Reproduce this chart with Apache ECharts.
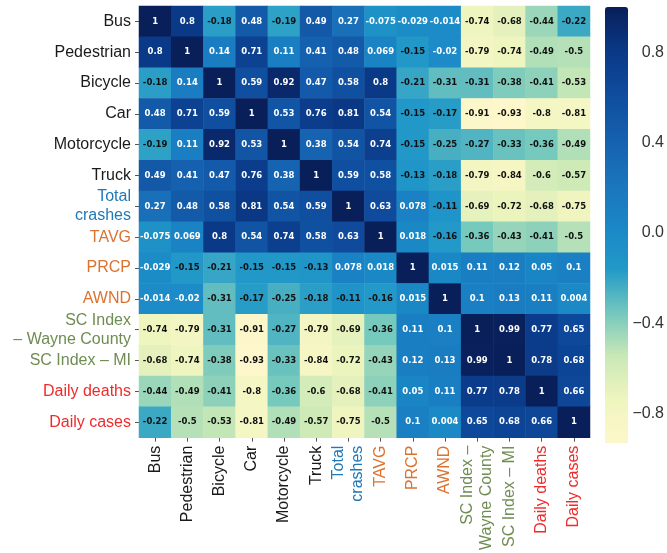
<!DOCTYPE html>
<html>
<head>
<meta charset="utf-8">
<script src="https://cdn.jsdelivr.net/npm/echarts@6/dist/echarts.min.js"></script>
<style>
html,body{margin:0;padding:0;background:#fff;}
#chart{width:667px;height:553px;}
</style>
</head>
<body>
<div id="chart"></div>
<script>
// ---- data ----
const categories = ['Bus','Pedestrian','Bicycle','Car','Motorcycle','Truck','Total crashes','TAVG','PRCP','AWND','SC Index – Wayne County','SC Index – MI','Daily deaths','Daily cases'];
const yTickLabels = ['Bus','Pedestrian','Bicycle','Car','Motorcycle','Truck','Total\ncrashes','TAVG','PRCP','AWND','SC Index\n– Wayne County','SC Index – MI','Daily deaths','Daily cases'];
const xTickLabels = ['Bus','Pedestrian','Bicycle','Car','Motorcycle','Truck','Total\ncrashes','TAVG','PRCP','AWND','SC Index –\nWayne County','SC Index – MI','Daily deaths','Daily cases'];
const categoryGroup = ['crash','crash','crash','crash','crash','crash','total','weather','weather','weather','index','index','covid','covid'];

const busRow        = [1, 0.8, -0.18, 0.48, -0.19, 0.49, 0.27, -0.075, -0.029, -0.014, -0.74, -0.68, -0.44, -0.22];
const pedestrianRow = [0.8, 1, 0.14, 0.71, 0.11, 0.41, 0.48, 0.069, -0.15, -0.02, -0.79, -0.74, -0.49, -0.5];
const bicycleRow    = [-0.18, 0.14, 1, 0.59, 0.92, 0.47, 0.58, 0.8, -0.21, -0.31, -0.31, -0.38, -0.41, -0.53];
const carRow        = [0.48, 0.71, 0.59, 1, 0.53, 0.76, 0.81, 0.54, -0.15, -0.17, -0.91, -0.93, -0.8, -0.81];
const motorcycleRow = [-0.19, 0.11, 0.92, 0.53, 1, 0.38, 0.54, 0.74, -0.15, -0.25, -0.27, -0.33, -0.36, -0.49];
const truckRow      = [0.49, 0.41, 0.47, 0.76, 0.38, 1, 0.59, 0.58, -0.13, -0.18, -0.79, -0.84, -0.6, -0.57];
const totalRow      = [0.27, 0.48, 0.58, 0.81, 0.54, 0.59, 1, 0.63, 0.078, -0.11, -0.69, -0.72, -0.68, -0.75];
const tavgRow       = [-0.075, 0.069, 0.8, 0.54, 0.74, 0.58, 0.63, 1, 0.018, -0.16, -0.36, -0.43, -0.41, -0.5];
const prcpRow       = [-0.029, -0.15, -0.21, -0.15, -0.15, -0.13, 0.078, 0.018, 1, 0.015, 0.11, 0.12, 0.05, 0.1];
const awndRow       = [-0.014, -0.02, -0.31, -0.17, -0.25, -0.18, -0.11, -0.16, 0.015, 1, 0.1, 0.13, 0.11, 0.004];
const scWayneRow    = [-0.74, -0.79, -0.31, -0.91, -0.27, -0.79, -0.69, -0.36, 0.11, 0.1, 1, 0.99, 0.77, 0.65];
const scMiRow       = [-0.68, -0.74, -0.38, -0.93, -0.33, -0.84, -0.72, -0.43, 0.12, 0.13, 0.99, 1, 0.78, 0.68];
const deathsRow     = [-0.44, -0.49, -0.41, -0.8, -0.36, -0.6, -0.68, -0.41, 0.05, 0.11, 0.77, 0.78, 1, 0.66];
const casesRow      = [-0.22, -0.5, -0.53, -0.81, -0.49, -0.57, -0.75, -0.5, 0.1, 0.004, 0.65, 0.68, 0.66, 1];

const colorbarTicks = [-0.8, -0.4, 0, 0.4, 0.8];
const colorMin = -0.93, colorMax = 1;

// ---- build ----
const rows = [busRow, pedestrianRow, bicycleRow, carRow, motorcycleRow, truckRow, totalRow, tavgRow, prcpRow, awndRow, scWayneRow, scMiRow, deathsRow, casesRow];
const heatData = [];
rows.forEach((row, yi) => row.forEach((v, xi) => heatData.push([xi, yi, v])));

const groupColor = {crash:'#1a1a1a', total:'#1f78b8', weather:'#dc7230', index:'#6f8c52', covid:'#ee2b2b'};
const rich = {};
Object.keys(groupColor).forEach(k => {
  rich[k] = {color: groupColor[k], fontSize: 16, fontFamily: 'Liberation Sans, Arial, sans-serif', lineHeight: 19};
});
function fmtLabel(labels) {
  return function (value, index) {
    const g = categoryGroup[index];
    return labels[index].split('\n').map(s => '{' + g + '|' + s + '}').join('\n');
  };
}

const chart = echarts.init(document.getElementById('chart'), null, {renderer: 'canvas'});
chart.setOption({
  animation: false,
  backgroundColor: '#ffffff',
  grid: [
    {left: 139, top: 6, width: 451, height: 434},
    {left: 605, top: 7, width: 23, height: 436}
  ],
  xAxis: [
    {
      type: 'category', data: categories, gridIndex: 0, position: 'bottom',
      axisLine: {show: false},
      axisTick: {show: true, length: 4, alignWithLabel: true, lineStyle: {color: '#555'}},
      axisLabel: {rotate: 90, margin: 8, interval: 0, formatter: fmtLabel(xTickLabels), rich: rich},
      splitLine: {show: false}
    },
    {type: 'value', gridIndex: 1, show: false, min: 0, max: 1}
  ],
  yAxis: [
    {
      type: 'category', data: categories, gridIndex: 0, inverse: true,
      axisLine: {show: false},
      axisTick: {show: true, length: 4, alignWithLabel: true, lineStyle: {color: '#555'}},
      axisLabel: {margin: 8, interval: 0, formatter: fmtLabel(yTickLabels), rich: rich},
      splitLine: {show: false}
    },
    {
      type: 'value', gridIndex: 1, position: 'right', min: colorMin, max: colorMax,
      axisLine: {show: false},
      splitLine: {show: false},
      axisTick: {show: true, length: 4, customValues: colorbarTicks, lineStyle: {color: '#555'}},
      axisLabel: {
        margin: 36, align: 'right', customValues: colorbarTicks, color: '#333', fontSize: 16,
        fontFamily: 'Liberation Sans, Arial, sans-serif',
        formatter: v => (v < 0 ? '\u2212' : '') + Math.abs(v).toFixed(1)
      }
    }
  ],
  visualMap: {
    type: 'continuous', seriesIndex: 0, min: colorMin, max: colorMax,
    calculable: false, orient: 'vertical', left: 605, top: 7, padding: 0,
    itemWidth: 23, itemHeight: 436, text: null, hoverLink: false,
    inRange: {color: ['#fdf7cb','#eff5bf','#c9e8b6','#72c7bd','#2199c8','#1a86c6','#1a74bc','#1560ae','#0f4c9e','#0a3886','#081f5a']}
  },
  series: [
    {
      type: 'heatmap', xAxisIndex: 0, yAxisIndex: 0, data: heatData,
      label: {
        show: true,
        formatter: p => (p.value[2] > -0.1 ? '{w|' : '{b|') + String(p.value[2]) + '}',
        rich: {
          w: {color: '#ffffff', fontSize: 8.5, fontWeight: 'bold', fontFamily: 'DejaVu Sans, sans-serif'},
          b: {color: '#111111', fontSize: 8.5, fontWeight: 'bold', fontFamily: 'DejaVu Sans, sans-serif'}
        }
      },
      emphasis: {disabled: true}
    },
    {type: 'scatter', xAxisIndex: 1, yAxisIndex: 1, data: [], silent: true}
  ]
});
</script>
</body>
</html>
